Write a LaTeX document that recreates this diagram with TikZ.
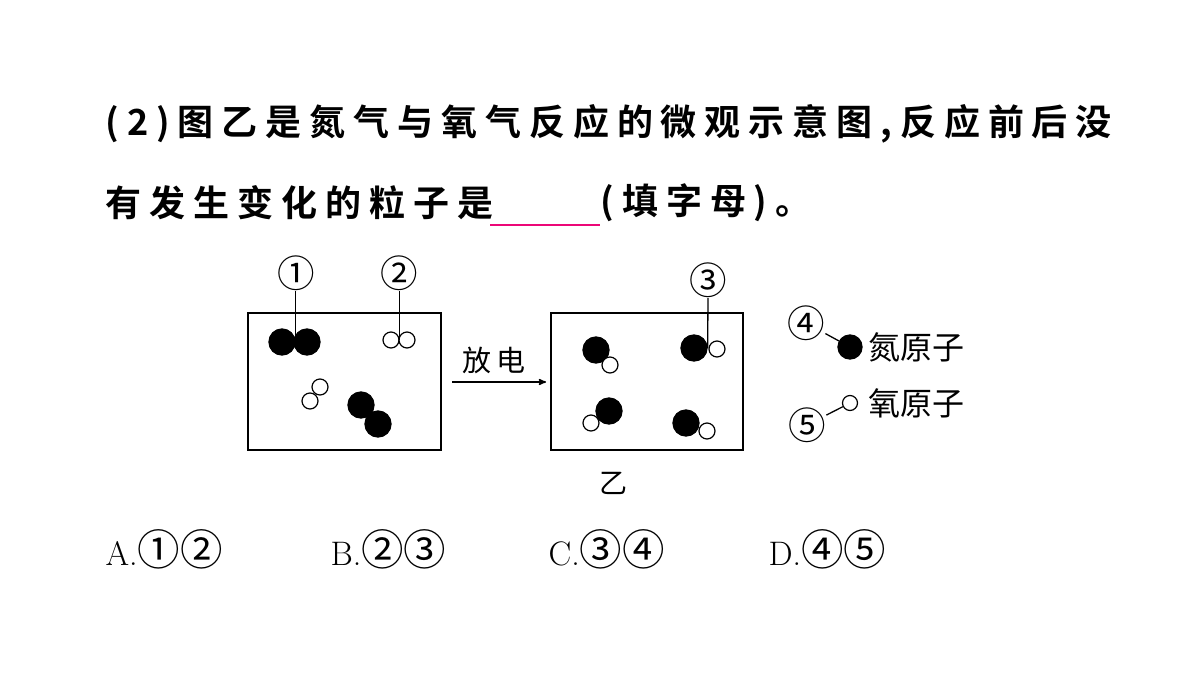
\documentclass[tikz,border=0pt]{standalone}
\usepackage{fontspec}
\newfontfamily\cjk{Noto Sans CJK SC}
\newfontfamily\cjkb{Noto Sans CJK SC}[BoldFont=* Bold, LetterSpace=22]
\newfontfamily\cjkd{Noto Sans CJK SC}[Scale=1.25]
\usetikzlibrary{arrows}
\tikzset{>=stealth', font=\cjk}
\tikzset{natom/.style={shape=circle, draw, fill=black, inner sep=0pt, minimum size=26pt},
  oatom/.style={shape=circle, draw, fill=white, inner sep=0pt, minimum size=16pt, line width=1.2pt},
  tag/.style={font=\cjkd\fontsize{30}{30}\selectfont, inner sep=0pt},
  word/.style={font=\cjk\fontsize{32}{32}\selectfont, inner sep=0pt},
  line/.style={anchor=west, font=\cjkb\bfseries\fontsize{36}{36}\selectfont, inner sep=0pt},
  choice/.style={anchor=west, inner sep=0pt, font=\fontsize{34}{34}\selectfont},
  box/.style={draw, line width=1.5pt}}
\begin{document}
\begin{tikzpicture}[x=1pt, y=-1pt, line width=1.3pt]
  \useasboundingbox[fill=white] (0,0) rectangle (1200,675);
  % question
  \node[line] (q1) at (105,124) {(2)图乙是氮气与氧气反应的微观示意图,反应前后没};
  \node[line] (q2) at (105,203) {有发生变化的粒子是};
  \coordinate (blankl) at (490,225);
  \coordinate (blankr) at (600,225);
  \draw[magenta!80!red, line width=1.2pt] (blankl) -- (blankr);
  \node[line] (q3) at (600,203) {(填字母)。};
  % boxes
  \draw[box] (248,313) rectangle (441,450);
  \draw[box] (551,313) rectangle (743,450);
  \node[word, font=\cjk\fontsize{29}{29}\selectfont] (fd) at (494,360) {放\,电};
  \coordinate (arrl) at (452,382);
  \coordinate (arrr) at (546,382);
  \draw[->, line width=1.5pt] (arrl) -- (arrr);
  \node[word, font=\cjk\fontsize{28}{28}\selectfont] (yi) at (613,483) {乙};
  % before
  \node[natom] (n1) at (282,342) {};
  \node[natom] (n2) at (307,342) {};
  \node[oatom] (o1) at (391,340) {};
  \node[oatom] (o2) at (407,340) {};
  \node[oatom] (o3) at (320,387) {};
  \node[oatom] (o4) at (310,401) {};
  \node[natom] (n3) at (361,405) {};
  \node[natom] (n4) at (378,424) {};
  % after
  \node[natom] (a1) at (596,350) {};
  \node[oatom] (b1) at (610,365) {};
  \node[natom] (a2) at (694,348) {};
  \node[oatom] (b2) at (717,349) {};
  \node[oatom] (b3) at (591,423) {};
  \node[natom] (a3) at (609,411) {};
  \node[natom] (a4) at (686,423) {};
  \node[oatom] (b4) at (707,431) {};
  % labels
  \node[tag] (c1) at (296,273) {①};
  \node[tag] (c2) at (399,273) {②};
  \node[tag] (c3) at (708,280) {③};
  \draw (c1.south -| n1.east) -- (n1.east);
  \draw (c2.south -| o1.east) -- (o1.east);
  \draw (c3.south) -- (a2.east);
  % legend
  \node[natom, minimum size=24pt] (ln) at (850,347) {};
  \node[oatom, minimum size=15pt] (lo) at (850,403) {};
  \node[tag] (c4) at (806,323) {④};
  \node[tag] (c5) at (807,425) {⑤};
  \draw (c4) -- (ln);
  \draw (c5) -- (lo);
  \node[word, anchor=west] (ntext) at (868,347) {氮原子};
  \node[word, anchor=west] (otext) at (868,403) {氧原子};
  % choices
  \node[choice] (ca) at (105,549) {A.\cjkd①②};
  \node[choice] (cb) at (330,549) {B.\cjkd②③};
  \node[choice] (cc) at (548,549) {C.\cjkd③④};
  \node[choice] (cd) at (768,549) {D.\cjkd④⑤};
\end{tikzpicture}
\end{document}
